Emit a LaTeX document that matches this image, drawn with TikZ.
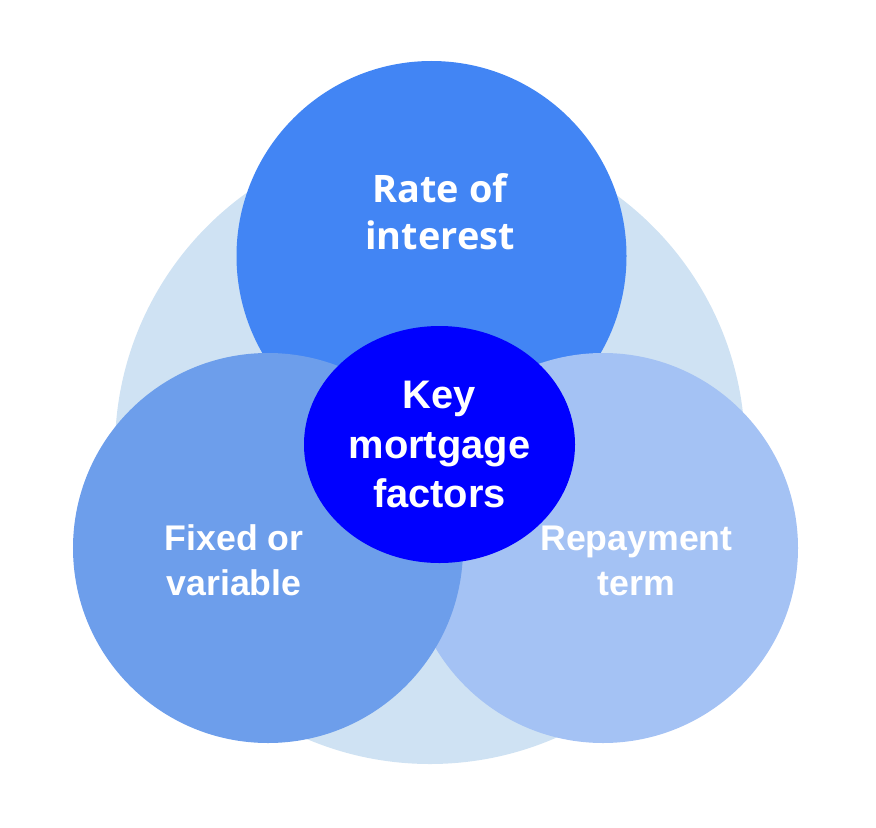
\documentclass[tikz,border=0pt]{standalone}
\usepackage{fontspec}
\setmainfont{Liberation Sans}
\newfontfamily\opensans{Open Sans}
\usetikzlibrary{shapes,positioning}
\definecolor{bgblue}{HTML}{CFE2F3}
\definecolor{rateblue}{HTML}{4285F4}
\definecolor{fixblue}{HTML}{6D9EEB}
\definecolor{termblue}{HTML}{A4C2F4}
\definecolor{keyblue}{HTML}{0000FF}
\begin{document}
\begin{tikzpicture}[x=1bp, y=-1bp,
                    every node/.style={inner sep=0pt, outer sep=0pt},
                    bubble/.style={circle, minimum size=390bp},
                    txt/.style={text=white, align=center, font=\fontsize{35.8}{45}\selectfont\bfseries}]
	\useasboundingbox (0,0) rectangle (876,828);
	\node[circle, fill=bgblue, minimum size=630bp] (back) at (430,449) {};
	
	\node[bubble, fill=rateblue] (rate) at (431.5,256) {};
	\node[bubble, fill=termblue] (term) at (603,548) {};
	\node[bubble, fill=fixblue] (fixed) at (268,548) {};
	
	\node[ellipse, fill=keyblue, minimum width=271bp, minimum height=237bp, text=white, align=center,
	      font=\fontsize{40}{50}\selectfont\bfseries] (key) at (439.5,444.5) {Key\\mortgage\\factors};
	
	\node[txt, font=\opensans\fontsize{38}{47}\selectfont\bfseries] (ratetxt) at (440,212) {Rate of\\interest};
	\node[txt] (fixedtxt) at (234,560) {Fixed or\\variable};
	\node[txt] (termtxt) at (636.5,561) {Repayment\\term};
\end{tikzpicture}
\end{document}
